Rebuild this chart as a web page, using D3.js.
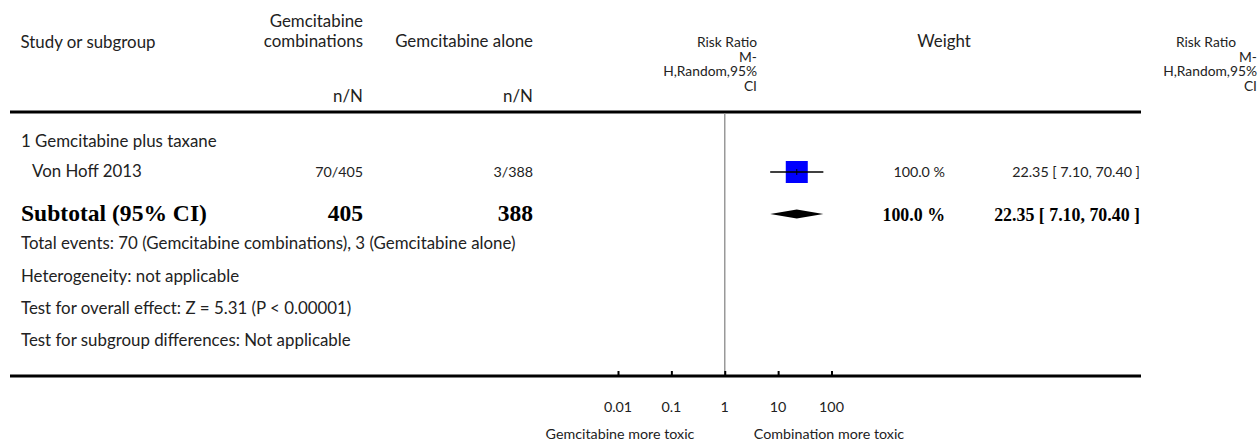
<!DOCTYPE html>
<html><head><meta charset="utf-8">
<script src="https://cdn.jsdelivr.net/npm/d3@7"></script>
<style>
html,body{margin:0;padding:0;background:#fff;}
svg{display:block;}
</style></head>
<body>
<svg id="chart" width="1259" height="443"></svg>
<script>
// ---- data ----
const groupTitle = "1 Gemcitabine plus taxane";
const studies = ["Von Hoff 2013"];
const eventsTreat = [70];
const totalTreat = [405];
const eventsCtrl = [3];
const totalCtrl = [388];
const riskRatio = [22.35];
const ciLow = [7.10];
const ciHigh = [70.40];
const weights = [100.0];
const subtotalLabel = "Subtotal (95% CI)";
const subtotalTreat = 405;
const subtotalCtrl = 388;
const subtotalRR = [22.35, 7.10, 70.40];
const subtotalWeight = 100.0;
const footers = [
  "Total events: 70 (Gemcitabine combinations), 3 (Gemcitabine alone)",
  "Heterogeneity: not applicable",
  "Test for overall effect: Z = 5.31  (P < 0.00001)",
  "Test for subgroup differences: Not applicable"
];
const tickValues = [0.01, 0.1, 1, 10, 100];
const tickLabels = ["0.01", "0.1", "1", "10", "100"];
const axisLabels = ["Gemcitabine more toxic", "Combination more toxic"];
const rrHead = ["Risk Ratio", "M-", "H,Random,95%", "CI"];

// ---- layout ----
const svg = d3.select("#chart");
const SANS = "Lato, 'Open Sans', sans-serif";
const SERIF = "'Liberation Serif', 'DejaVu Serif', serif";
const textCol = "#222";

function fitSize(str, family, weight, target) {
  const t = svg.append("text").attr("font-family", family).attr("font-weight", weight)
    .attr("font-size", 100).text(str);
  const w = t.node().getComputedTextLength();
  t.remove();
  return 100 * target / w;
}
const fs = fitSize("Total events: 70 (Gemcitabine combinations), 3 (Gemcitabine alone)", SANS, 400, 495);
const fsNum = fitSize("22.35 [ 7.10, 70.40 ]", SANS, 400, 128);
const fsHead = fitSize("H,Random,95%", SANS, 400, 94);
const fsB = fitSize("Subtotal (95% CI)", SERIF, 700, 186);
const fsBNum = fitSize("22.35 [ 7.10, 70.40 ]", SERIF, 700, 146);

const lineX1 = 10, lineX2 = 1141;
const colT = 363, colC = 533, colW = 945, colRR = 1140;
const x = d3.scaleLog().domain([0.01, 100]).range([618, 831.5]);
const size = d3.scaleSqrt().domain([0, 100]).range([0, 22]);

function txt(s, xx, yy, anchor, opts = {}) {
  return svg.append("text")
    .attr("x", xx).attr("y", yy)
    .attr("text-anchor", anchor || "start")
    .attr("font-family", opts.bold ? SERIF : SANS)
    .attr("font-weight", opts.bold ? 700 : 400)
    .attr("font-size", opts.size || (opts.bold ? fsB : fs))
    .attr("fill", opts.bold ? "#000" : textCol)
    .text(s);
}

// headers
txt("Study or subgroup", 88, 48, "middle");
txt("Gemcitabine", colT, 27, "end");
txt("combinations", colT, 47, "end");
txt("Gemcitabine alone", colC, 47, "end");
txt("n/N", colT, 102, "end");
txt("n/N", colC, 102, "end");
const rrHeadY = [47, 61.5, 76, 90.5];
rrHead.forEach((s, i) => {
  txt(s, 757, rrHeadY[i], "end", {size: fsHead});
  txt(s, i === 0 ? 1236 : 1257, rrHeadY[i], "end", {size: fsHead});
});
txt("Weight", 944, 47, "middle");

// top rule
const yTop = 112, yAxis = 376;
svg.append("line").attr("x1", lineX1).attr("x2", lineX2).attr("y1", yTop).attr("y2", yTop)
  .attr("stroke", "#000").attr("stroke-width", 3);

// null line
svg.append("line").attr("x1", x(1)).attr("x2", x(1)).attr("y1", yTop + 1.5).attr("y2", yAxis)
  .attr("stroke", "#999").attr("stroke-width", 1.5);

// group title
txt(groupTitle, 21, 147, "start");

// studies
const rowY = [172];
studies.forEach((s, i) => {
  const y = rowY[i];
  txt(s, 32, y + 5, "start");
  txt(eventsTreat[i] + "/" + totalTreat[i], colT, y + 5, "end", {size: fsNum});
  txt(eventsCtrl[i] + "/" + totalCtrl[i], colC, y + 5, "end", {size: fsNum});
  txt(weights[i].toFixed(1) + " %", colW, y + 5, "end", {size: fsNum});
  txt(riskRatio[i].toFixed(2) + " [ " + ciLow[i].toFixed(2) + ", " + ciHigh[i].toFixed(2) + " ]", colRR, y + 5, "end", {size: fsNum});
  const sz = size(weights[i]);
  svg.append("rect").attr("x", x(riskRatio[i]) - sz / 2).attr("y", y - sz / 2)
    .attr("width", sz).attr("height", sz).attr("fill", "#0000ff");
  svg.append("line").attr("x1", x(ciLow[i])).attr("x2", x(ciHigh[i])).attr("y1", y).attr("y2", y)
    .attr("stroke", "#000").attr("stroke-width", 1.5);
  svg.append("line").attr("x1", x(riskRatio[i])).attr("x2", x(riskRatio[i])).attr("y1", y - 3).attr("y2", y + 3)
    .attr("stroke", "#000").attr("stroke-width", 1);
});

// subtotal
const ySub = 221;
txt(subtotalLabel, 21, ySub, "start", {bold: true});
txt(String(subtotalTreat), colT, ySub, "end", {bold: true});
txt(String(subtotalCtrl), colC, ySub, "end", {bold: true});
txt(subtotalWeight.toFixed(1) + " %", colW, ySub, "end", {bold: true, size: fsBNum});
txt(subtotalRR[0].toFixed(2) + " [ " + subtotalRR[1].toFixed(2) + ", " + subtotalRR[2].toFixed(2) + " ]", colRR, ySub, "end", {bold: true, size: fsBNum});
const dy = 214;
svg.append("path")
  .attr("d", `M${x(subtotalRR[1])},${dy} L${x(subtotalRR[0])},${dy - 4.5} L${x(subtotalRR[2])},${dy} L${x(subtotalRR[0])},${dy + 4.5} Z`)
  .attr("fill", "#000");

// footers
const footY = [249, 282, 314, 346];
footers.forEach((s, i) => txt(s, 21, footY[i], "start"));

// axis
const axisG = svg.append("g").attr("transform", `translate(0,${yAxis})`);
axisG.append("line").attr("x1", lineX1).attr("x2", lineX2).attr("y1", 0).attr("y2", 0)
  .attr("stroke", "#000").attr("stroke-width", 3);
const ax = d3.axisTop(x).tickValues(tickValues).tickSize(5).tickFormat("");
const g2 = axisG.append("g").call(ax);
g2.select(".domain").remove();
g2.selectAll(".tick line").attr("stroke", "#000").attr("stroke-width", 2);
tickValues.forEach((v, i) => txt(tickLabels[i], x(v), 412, "middle", {size: fsNum}));
txt(axisLabels[0], 620, 439, "middle", {size: fsNum});
txt(axisLabels[1], 829, 439, "middle", {size: fsNum});
</script>
</body></html>
